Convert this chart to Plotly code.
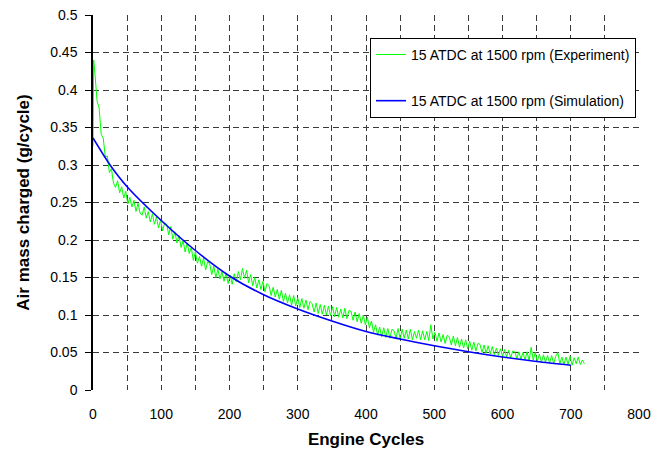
import plotly.graph_objects as go

# ---------------- data ----------------
exp_cycles = [0, 1] + list(range(3, 721, 3))
exp_air = [
    0.325, 0.440,
    0.420, 0.385, 0.376, 0.341, 0.336, 0.311, 0.312, 0.290, 0.295, 0.276,
    0.270, 0.279, 0.263, 0.271, 0.256, 0.265, 0.248, 0.257, 0.244, 0.253,
    0.238, 0.249, 0.236, 0.233, 0.244, 0.229, 0.238, 0.224, 0.235, 0.221,
    0.231, 0.216, 0.227, 0.212, 0.223, 0.221, 0.207, 0.218, 0.201, 0.211,
    0.196, 0.206, 0.190, 0.199, 0.184, 0.196, 0.182, 0.190, 0.173, 0.184,
    0.169, 0.178, 0.165, 0.176, 0.160, 0.171, 0.168, 0.154, 0.165, 0.150,
    0.161, 0.148, 0.158, 0.145, 0.156, 0.142, 0.153, 0.141, 0.155, 0.144,
    0.158, 0.147, 0.162, 0.149, 0.160, 0.143, 0.154, 0.139, 0.150, 0.136,
    0.147, 0.134, 0.145, 0.131, 0.142, 0.139, 0.126, 0.137, 0.124, 0.134,
    0.121, 0.133, 0.118, 0.129, 0.116, 0.127, 0.113, 0.126, 0.112, 0.123,
    0.110, 0.122, 0.109, 0.120, 0.107, 0.118, 0.115, 0.104, 0.116, 0.102,
    0.114, 0.101, 0.113, 0.100, 0.112, 0.099, 0.111, 0.098, 0.110, 0.097,
    0.108, 0.096, 0.109, 0.095, 0.106, 0.105, 0.093, 0.104, 0.091, 0.102,
    0.089, 0.100, 0.087, 0.097, 0.083, 0.092, 0.077, 0.087, 0.073, 0.084,
    0.071, 0.083, 0.070, 0.082, 0.069, 0.081, 0.079, 0.069, 0.082, 0.068,
    0.081, 0.069, 0.080, 0.068, 0.081, 0.067, 0.078, 0.069, 0.080, 0.067,
    0.079, 0.067, 0.078, 0.066, 0.087, 0.068, 0.077, 0.065, 0.076, 0.064,
    0.074, 0.062, 0.073, 0.071, 0.060, 0.072, 0.059, 0.070, 0.057, 0.068,
    0.056, 0.067, 0.055, 0.065, 0.053, 0.064, 0.052, 0.062, 0.061, 0.050,
    0.060, 0.049, 0.059, 0.048, 0.058, 0.047, 0.056, 0.046, 0.055, 0.045,
    0.054, 0.044, 0.053, 0.043, 0.052, 0.051, 0.042, 0.051, 0.041, 0.050,
    0.040, 0.051, 0.039, 0.057, 0.040, 0.050, 0.038, 0.048, 0.037, 0.047,
    0.037, 0.046, 0.036, 0.046, 0.035, 0.045, 0.050, 0.035, 0.044, 0.034,
    0.044, 0.034, 0.045, 0.033, 0.043, 0.035, 0.044, 0.034, 0.040, 0.035,
]

sim_cycles = [0, 25, 50, 100, 150, 200, 250, 300, 350, 400, 450, 500, 550, 600, 650, 700]
sim_air = [0.336, 0.300, 0.271, 0.226, 0.186, 0.152, 0.127, 0.108, 0.092,
           0.078, 0.068, 0.059, 0.051, 0.044, 0.038, 0.033]

y_tick_vals = [0, 0.05, 0.1, 0.15, 0.2, 0.25, 0.3, 0.35, 0.4, 0.45, 0.5]
y_tick_text = ["0", "0.05", "0.1", "0.15", "0.2", "0.25", "0.3", "0.35", "0.4", "0.45", "0.5"]

exp_name = "15 ATDC at 1500 rpm (Experiment)"
sim_name = "15 ATDC at 1500 rpm (Simulation)"

# ---------------- figure ----------------
FONT = "Liberation Sans, Arial, sans-serif"
GRID = "#3a3a3a"

fig = go.Figure()
fig.add_trace(go.Scatter(
    x=exp_cycles, y=exp_air, mode="lines", name=exp_name,
    line=dict(color="#00ff00", width=1), legendgroup="a",
))
fig.add_trace(go.Scatter(
    x=sim_cycles, y=sim_air, mode="lines", name=sim_name,
    line=dict(color="#0000ff", width=1.6, shape="spline", smoothing=0.8),
    legendgroup="b",
))

fig.update_layout(
    width=667, height=452,
    margin=dict(l=93, r=28, t=15, b=62, autoexpand=False),
    paper_bgcolor="white", plot_bgcolor="white",
    font=dict(family=FONT, size=14, color="black"),
    showlegend=True,
    legend=dict(
        x=0.9945, xanchor="right", y=0.939, yanchor="top",
        bgcolor="white", bordercolor="black", borderwidth=1,
        font=dict(family=FONT, size=14, color="black"),
        tracegroupgap=25,
    ),
    xaxis=dict(
        range=[0, 800], dtick=100, tick0=0, automargin=False,
        showgrid=True, gridcolor=GRID, griddash="6px,4px", gridwidth=1,
        minor=dict(dtick=50, showgrid=True, gridcolor=GRID, griddash="6px,4px", gridwidth=1),
        zeroline=False, showline=False, ticks="",
        ticklabelstandoff=14,
        tickfont=dict(family=FONT, size=14, color="black"),
        title=dict(text="<b>Engine Cycles</b>", font=dict(family=FONT, size=17, color="black"),
                   standoff=12),
    ),
    yaxis=dict(
        range=[0, 0.5], tickvals=y_tick_vals, ticktext=y_tick_text, automargin=False,
        showgrid=True, gridcolor=GRID, griddash="6px,4px", gridwidth=1,
        zeroline=False, showline=True, linecolor="black", linewidth=1.5,
        ticks="outside", ticklen=6, tickcolor="black", tickwidth=1,
        ticklabelstandoff=5,
        tickfont=dict(family=FONT, size=14, color="black"),
        title=dict(text="<b>Air mass charged (g/cycle)</b>",
                   font=dict(family=FONT, size=17, color="black"), standoff=16),
    ),
)

fig.write_html("out.html")
